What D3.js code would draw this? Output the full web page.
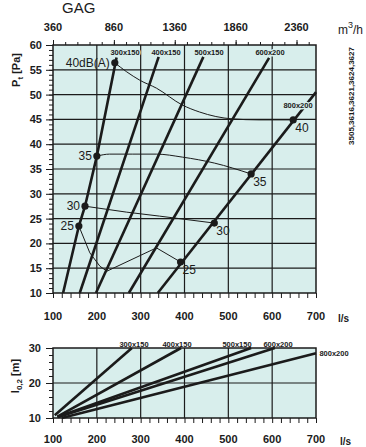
<!DOCTYPE html>
<html>
<head>
<meta charset="utf-8">
<script src="https://cdn.jsdelivr.net/npm/d3@7"></script>
<style>
body { margin: 0; background: #fff; }
svg text { font-family: "Liberation Sans", Arial, sans-serif; fill: #1b1b1b; }
</style>
</head>
<body>
<svg id="chart" width="366" height="447"></svg>
<script>
// duct sizes
const ducts = ['300x150', '400x150', '500x150', '600x200', '800x200'];

// pressure lines, [l/s, Pa]
const pressLines = [
  [[123, 10], [159, 23.5], [173, 27.5], [200, 37.6], [245, 57.5]],
  [[161, 10], [341, 57.6]],
  [[198, 10], [443, 57.6]],
  [[273, 10], [593, 57.4]],
  [[339, 10], [700, 50.5]]
];

// sound level curves, [l/s, Pa]
const soundLevels = ['40', '35', '30', '25'];
const sound40 = [[241, 56.4], [268, 54.6], [298, 52.9], [336, 51.3], [395, 47.9], [434, 46.5], [509, 45.1], [570, 44.9], [648, 44.9]];
const sound35 = [[200, 37.6], [229, 38.0], [282, 38.0], [336, 38.0], [395, 37.4], [468, 36.2], [552, 34.0]];
const sound30 = [[173, 27.5], [268, 26.3], [343, 25.5], [468, 24.1]];
const sound25 = [[159, 23.5], [184, 18.1], [207, 15.4], [223, 14.4], [336, 19.1], [391, 16.25]];

// throw lines, [l/s, m]
const throwLines = [
  [[104, 10.8], [280, 30]],
  [[110, 10.4], [392, 30]],
  [[110, 10.3], [552, 30]],
  [[112, 10.3], [606, 30]],
  [[120, 10.0], [700, 28.5]]
];

const flowTicks = [100, 200, 300, 400, 500, 600, 700];
const m3hTicks = [360, 860, 1360, 1860, 2360];
const pTicks = [10, 15, 20, 25, 30, 35, 40, 45, 50, 55, 60];
const lTicks = [10, 20, 30];

const bg = '#d8eeec';
const ink = '#1b1b1b';
const svg = d3.select('#chart');

const x = d3.scaleLinear().domain([100, 700]).range([53, 316]);
const m3h = d3.scaleLinear().domain([360, 2520]).range([53, 316]);
const yP = d3.scaleLinear().domain([10, 60]).range([293, 45]);
const yL = d3.scaleLinear().domain([10, 30]).range([418, 348]);

function panel(y, gridY) {
  const g = svg.append('g');
  g.append('rect')
    .attr('x', x(100)).attr('y', y.range()[1])
    .attr('width', x(700) - x(100)).attr('height', y.range()[0] - y.range()[1])
    .attr('fill', bg);
  g.selectAll('.gx').data(flowTicks.slice(1, -1)).join('line')
    .attr('x1', d => x(d)).attr('x2', d => x(d))
    .attr('y1', y.range()[0]).attr('y2', y.range()[1])
    .attr('stroke', ink).attr('stroke-width', 1.2);
  g.selectAll('.gy').data(gridY).join('line')
    .attr('x1', x(100)).attr('x2', x(700))
    .attr('y1', d => y(d)).attr('y2', d => y(d))
    .attr('stroke', ink).attr('stroke-width', 1.2);
  return g;
}

panel(yP, pTicks.slice(1, -1));
panel(yL, [20]);

// curves
const lineP = d3.line().x(d => x(d[0])).y(d => yP(d[1]));
const smoothP = d3.line().x(d => x(d[0])).y(d => yP(d[1])).curve(d3.curveMonotoneX);
const lineL = d3.line().x(d => x(d[0])).y(d => yL(d[1]));

const sounds = [sound40, sound35, sound30, sound25];
sounds.forEach((s, i) => {
  svg.append('path').attr('d', (i < 2 ? smoothP : lineP)(s))
    .attr('fill', 'none').attr('stroke', ink).attr('stroke-width', 1);
});

pressLines.forEach(l => {
  svg.append('path').attr('d', lineP(l))
    .attr('fill', 'none').attr('stroke', ink).attr('stroke-width', 2.6);
});

throwLines.forEach(l => {
  svg.append('path').attr('d', lineL(l))
    .attr('fill', 'none').attr('stroke', ink).attr('stroke-width', 2.6);
});

// dots
const dots = sounds.flatMap(s => [s[0], s[s.length - 1]]);
svg.selectAll('.dot').data(dots).join('circle')
  .attr('cx', d => x(d[0])).attr('cy', d => yP(d[1])).attr('r', 3.6)
  .attr('fill', ink);

// dot labels
sounds.forEach((s, i) => {
  const a = s[0], b = s[s.length - 1];
  svg.append('text')
    .attr('x', x(a[0]) - 5).attr('y', yP(a[1]) + 4)
    .attr('text-anchor', 'end').style('font-size', '12px')
    .text(i === 0 ? soundLevels[i] + 'dB(A)' : soundLevels[i]);
  svg.append('text')
    .attr('x', x(b[0]) + 2).attr('y', yP(b[1]) + 12)
    .style('font-size', '12px')
    .text(soundLevels[i]);
});

// duct labels
const topLabelPos = [[125, 55], [166, 55], [209, 55], [270, 55], [298, 108]];
const botLabelPos = [[134, 347], [177, 347], [237, 347], [278, 347], [334, 356]];
function ductLabels(pos, halo) {
  svg.selectAll(null).data(ducts).join('text')
    .attr('x', (d, i) => pos[i][0]).attr('y', (d, i) => pos[i][1])
    .attr('text-anchor', 'middle')
    .style('font-size', '7.5px').style('font-weight', 'bold')
    .style('paint-order', 'stroke')
    .attr('stroke', halo).attr('stroke-width', halo === 'none' ? 0 : 2.5)
    .text(d => d);
}
ductLabels(topLabelPos, bg);
ductLabels(botLabelPos, 'none');

// borders
[yP, yL].forEach(y => {
  svg.append('rect')
    .attr('x', x(100)).attr('y', y.range()[1])
    .attr('width', x(700) - x(100)).attr('height', y.range()[0] - y.range()[1])
    .attr('fill', 'none').attr('stroke', ink).attr('stroke-width', 1.5);
});

// axes (ticks only)
function ticks(g) {
  g.select('.domain').remove();
  g.selectAll('line').attr('stroke', ink).attr('stroke-width', 1);
}
svg.append('g').attr('transform', 'translate(0,293)')
  .call(d3.axisBottom(x).tickValues(d3.range(100, 701, 20)).tickSize(5).tickFormat('')).call(ticks);
svg.append('g').attr('transform', 'translate(0,418)')
  .call(d3.axisBottom(x).tickValues(d3.range(100, 701, 20)).tickSize(5).tickFormat('')).call(ticks);
svg.append('g').attr('transform', 'translate(0,45)')
  .call(d3.axisTop(m3h).tickValues(d3.range(360, 2521, 100)).tickSize(3).tickFormat('')).call(ticks);
svg.append('g').attr('transform', 'translate(0,45)')
  .call(d3.axisTop(m3h).tickValues(m3hTicks).tickSize(5).tickFormat('')).call(ticks);
svg.append('g').attr('transform', 'translate(53,0)')
  .call(d3.axisLeft(yP).tickValues(d3.range(10, 61, 1)).tickSize(4).tickFormat('')).call(ticks);
svg.append('g').attr('transform', 'translate(53,0)')
  .call(d3.axisLeft(yP).tickValues(pTicks).tickSize(7).tickFormat('')).call(ticks);
svg.append('g').attr('transform', 'translate(53,0)')
  .call(d3.axisLeft(yL).tickValues(d3.range(10, 31, 2)).tickSize(4).tickFormat('')).call(ticks);
svg.append('g').attr('transform', 'translate(53,0)')
  .call(d3.axisLeft(yL).tickValues(lTicks).tickSize(7).tickFormat('')).call(ticks);

// tick labels
const lab = (sel) => sel.style('font-size', '11px').style('font-weight', 'bold');
svg.selectAll('.xl1').data(flowTicks).join('text')
  .attr('x', d => x(d)).attr('y', 320).attr('text-anchor', 'middle').call(lab).text(d => d);
svg.selectAll('.xl2').data(flowTicks).join('text')
  .attr('x', d => x(d)).attr('y', 443).attr('text-anchor', 'middle').call(lab).text(d => d);
svg.selectAll('.xm').data(m3hTicks).join('text')
  .attr('x', d => m3h(d)).attr('y', 31).attr('text-anchor', 'middle').call(lab).text(d => d);
svg.selectAll('.yp').data(pTicks).join('text')
  .attr('x', 42).attr('y', d => yP(d) + 4).attr('text-anchor', 'end').call(lab).text(d => d);
svg.selectAll('.yl').data(lTicks).join('text')
  .attr('x', 41).attr('y', d => yL(d) + 4).attr('text-anchor', 'end').call(lab).text(d => d);

// units and titles
svg.append('text').attr('x', 338).attr('y', 322).call(lab).style('font-size', '10px').text('l/s');
svg.append('text').attr('x', 340).attr('y', 445).call(lab).style('font-size', '10px').text('l/s');
const mt = svg.append('text').attr('x', 338).attr('y', 34).style('font-size', '12px');
mt.append('tspan').text('m');
mt.append('tspan').attr('dy', -6).style('font-size', '9px').text('3');
mt.append('tspan').attr('dy', 6).text('/h');

svg.append('text').attr('x', 62).attr('y', 13).style('font-size', '15px').text('GAG');

const pt = svg.append('text').attr('transform', 'translate(20,70) rotate(-90)')
  .attr('text-anchor', 'middle').call(lab);
pt.append('tspan').text('P');
pt.append('tspan').attr('dy', 3).style('font-size', '8px').text('t');
pt.append('tspan').attr('dy', -3).text(' [Pa]');

const lt = svg.append('text').attr('transform', 'translate(19,376) rotate(-90)')
  .attr('text-anchor', 'middle').call(lab);
lt.append('tspan').text('l');
lt.append('tspan').attr('dy', 3).style('font-size', '8px').text('0,2');
lt.append('tspan').attr('dy', -3).text(' [m]');

svg.append('text').attr('transform', 'translate(354,96) rotate(-90)')
  .attr('text-anchor', 'middle').style('font-size', '8px').style('font-weight', 'bold')
  .text('3505,3616,3621,3624,3627');
</script>
</body>
</html>
